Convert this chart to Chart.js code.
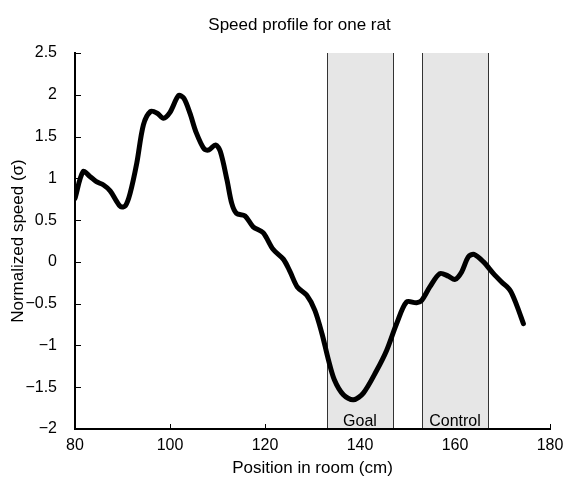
<!DOCTYPE html>
<html>
<head>
<meta charset="utf-8">
<script src="https://cdn.jsdelivr.net/npm/chart.js@4"></script>
<style>
body { margin: 0; background: #fff; }
canvas { display: block; }
</style>
</head>
<body>
<canvas id="grafico" width="566" height="479"></canvas>
<script>
// posizione nella stanza (cm) e velocita normalizzata (sigma)
const posizioni = [80, 81.7, 83.2, 84.5, 86, 87.4, 88.6, 89.6, 90.6, 91.6,
    93, 94.4, 95.9, 97.3, 98.6, 100, 101.8, 102.9, 104.2, 105.5,
    107.2, 108.2, 109.6, 110.6, 112, 113, 114, 115.8, 117.5, 119.6,
    121.7, 123.9, 125.3, 126.8, 128.8, 130.5, 132, 133.3, 134.6, 136.5,
    138.6, 140.7, 143.5, 145.6, 147.7, 149.8, 151.9, 153, 154.7, 156.8,
    158.6, 160, 161.4, 162.8, 164, 166, 168.1, 169.8, 171.6, 173, 174.4];
const velocita = [0.76, 1.08, 1.02, 0.96, 0.92, 0.85, 0.74, 0.66, 0.67, 0.82,
    1.18, 1.64, 1.80, 1.78, 1.72, 1.79, 1.99, 1.96, 1.78, 1.55,
    1.35, 1.34, 1.40, 1.32, 0.98, 0.70, 0.58, 0.55, 0.42, 0.35,
    0.15, 0.03, -0.12, -0.30, -0.40, -0.58, -0.86, -1.16, -1.41, -1.59,
    -1.65, -1.57, -1.30, -1.06, -0.74, -0.48, -0.49, -0.46, -0.30, -0.14,
    -0.17, -0.21, -0.12, 0.06, 0.09, 0.0, -0.14, -0.24, -0.34, -0.52, -0.74];

const tickX = [80, 100, 120, 140, 160, 180];
const tickY = [-2, -1.5, -1, -0.5, 0, 0.5, 1, 1.5, 2, 2.5];

const zone = ["Goal", "Control"];
const zoneInizio = [133, 153];
const zoneFine = [147, 167];

const titolo = "Speed profile for one rat";

const famiglia = "'Liberation Sans', Arial, Helvetica, sans-serif";
Chart.defaults.font.family = famiglia;
Chart.defaults.color = "#000";

// tacche verso l'interno (sotto le fasce), poi fasce grigie con etichetta
const zonePlugin = {
    id: "zone",
    beforeDraw(chart) {
        const {ctx, chartArea, scales} = chart;
        ctx.save();
        ctx.strokeStyle = "#000";
        ctx.lineWidth = 1;
        ctx.beginPath();
        tickX.forEach(v => {
            const x = Math.round(scales.x.getPixelForValue(v)) + 0.5;
            ctx.moveTo(x, chartArea.bottom);
            ctx.lineTo(x, chartArea.bottom - 5);
        });
        tickY.forEach(v => {
            const y = Math.round(scales.y.getPixelForValue(v)) + 0.5;
            ctx.moveTo(chartArea.left, y);
            ctx.lineTo(chartArea.left + 6, y);
        });
        ctx.stroke();

        zone.forEach((nome, i) => {
            const x1 = Math.round(scales.x.getPixelForValue(zoneInizio[i]));
            const x2 = Math.round(scales.x.getPixelForValue(zoneFine[i]));
            ctx.fillStyle = "#e6e6e6";
            ctx.fillRect(x1, chartArea.top, x2 - x1, chartArea.bottom - chartArea.top);
            ctx.strokeStyle = "#333";
            ctx.lineWidth = 1;
            ctx.beginPath();
            ctx.moveTo(x1 + 0.5, chartArea.top);
            ctx.lineTo(x1 + 0.5, chartArea.bottom);
            ctx.moveTo(x2 + 0.5, chartArea.top);
            ctx.lineTo(x2 + 0.5, chartArea.bottom);
            ctx.stroke();
            ctx.fillStyle = "#000";
            ctx.font = "16px " + famiglia;
            ctx.textAlign = "center";
            ctx.textBaseline = "alphabetic";
            ctx.fillText(nome, (x1 + x2) / 2, chartArea.bottom - 3);
        });

        // titolo
        ctx.font = "17px " + famiglia;
        ctx.textAlign = "center";
        ctx.fillText(titolo, (chartArea.left + chartArea.right) / 2 - 13, 30);
        ctx.restore();
    }
};

const punti = posizioni.map((p, i) => ({x: p, y: velocita[i]}));

new Chart(document.getElementById("grafico"), {
    type: "line",
    data: {
        datasets: [{
            data: punti,
            borderColor: "#000",
            borderWidth: 5,
            pointRadius: 0,
            tension: 0.3,
            borderCapStyle: "round",
            borderJoinStyle: "round"
        }]
    },
    options: {
        responsive: false,
        animation: false,
        layout: {
            padding: {left: 0, right: 16, top: 53, bottom: 0}
        },
        plugins: {
            legend: {display: false},
            tooltip: {enabled: false},
            title: {display: false}
        },
        scales: {
            x: {
                type: "linear",
                min: 80,
                max: 180,
                afterBuildTicks: s => { s.ticks = tickX.map(v => ({value: v})); },
                afterFit: s => { s.height = 50; s.paddingLeft = 0; s.paddingRight = 0; },
                grid: {display: false},
                border: {color: "#000", width: 2},
                ticks: {
                    color: "#000",
                    font: {size: 16},
                    padding: -1,
                    maxRotation: 0,
                    autoSkip: false
                },
                title: {
                    display: true,
                    text: "Position in room (cm)",
                    color: "#000",
                    font: {size: 17},
                    padding: {top: 0, bottom: 0}
                }
            },
            y: {
                type: "linear",
                min: -2,
                max: 2.5,
                afterBuildTicks: s => { s.ticks = tickY.map(v => ({value: v})); },
                afterFit: s => { s.width = 75; s.paddingTop = 0; s.paddingBottom = 0; },
                grid: {display: false},
                border: {color: "#000", width: 2},
                ticks: {
                    color: "#000",
                    font: {size: 16},
                    padding: 10,
                    callback: v => String(v).replace("-", "\u2212")
                },
                title: {
                    display: true,
                    text: "Normalized speed (σ)",
                    color: "#000",
                    font: {size: 17},
                    padding: {top: 8, bottom: 0}
                }
            }
        }
    },
    plugins: [zonePlugin]
});
</script>
</body>
</html>
